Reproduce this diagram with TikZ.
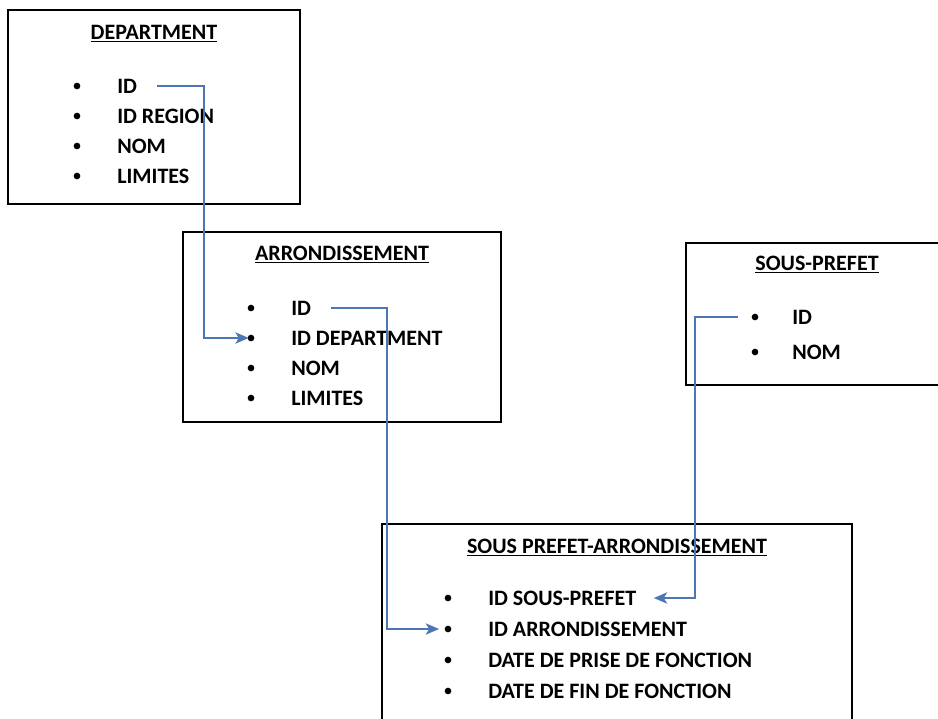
\documentclass[tikz,border=0pt]{standalone}
\usepackage{fontspec}
\setmainfont{Carlito}
\usetikzlibrary{arrows.meta}
\definecolor{linkblue}{RGB}{79,118,180}
\tikzset{
  box/.style={draw, line width=1.2pt, inner sep=0pt},
  title/.style={anchor=base, inner sep=0pt, font=\bfseries\fontsize{16.5}{20}\selectfont},
  field/.style={anchor=west, inner sep=0pt, font=\bfseries\fontsize{16.5}{20}\selectfont},
  dot/.style={circle, fill, inner sep=0pt, minimum size=5pt},
  link/.style={draw=linkblue, line width=1.3pt, -{Stealth[length=10pt,width=8.5pt,inset=2.5pt]}}
}

\begin{document}
\begin{tikzpicture}[x=0.75pt, y=-0.75pt]
\useasboundingbox (0,0) rectangle (938,718);
\clip (0,0) rectangle (938,718);
\node[box, minimum width=219pt, minimum height=145.5pt] (dept) at (154,107) {};
\node[box, minimum width=238.5pt, minimum height=142.5pt] (arr) at (342,327) {};
\node[box, minimum width=198pt, minimum height=106.5pt] (sp) at (818,314) {};
\node[box, minimum width=352.5pt, minimum height=162pt] (spa) at (617,632) {};

\node[title] (dept-t) at (154,39) {\underline{DEPARTMENT}};
\node[dot] (d-id-b) at (77,86) {};
\node[dot] (d-reg-b) at (77,116) {};
\node[dot] (d-nom-b) at (77,146) {};
\node[dot] (d-lim-b) at (77,176) {};
\node[field] (d-id) at (117,86) {ID};
\node[field] (d-reg) at (117,116) {ID REGION};
\node[field] (d-nom) at (117,146) {NOM};
\node[field] (d-lim) at (117,176) {LIMITES};

\node[title] (arr-t) at (342,260) {\underline{ARRONDISSEMENT}};
\node[dot] (a-id-b) at (251,308) {};
\node[dot] (a-dep-b) at (251,338) {};
\node[dot] (a-nom-b) at (251,368) {};
\node[dot] (a-lim-b) at (251,398) {};
\node[field] (a-id) at (291,308) {ID};
\node[field] (a-dep) at (291,338) {ID DEPARTMENT};
\node[field] (a-nom) at (291,368) {NOM};
\node[field] (a-lim) at (291,398) {LIMITES};

\node[title] (sp-t) at (817,270) {\underline{SOUS-PREFET}};
\node[dot] (s-id-b) at (755,317) {};
\node[dot] (s-nom-b) at (755,352) {};
\node[field] (s-id) at (792,317) {ID};
\node[field] (s-nom) at (792,352) {NOM};

\node[title] (spa-t) at (617,553) {\underline{SOUS PREFET-ARRONDISSEMENT}};
\node[dot] (p-sp-b) at (448,598) {};
\node[dot] (p-arr-b) at (448,629) {};
\node[dot] (p-deb-b) at (448,660) {};
\node[dot] (p-fin-b) at (448,691) {};
\node[field] (p-sp) at (488,598) {ID SOUS-PREFET};
\node[field] (p-arr) at (488,629) {ID ARRONDISSEMENT};
\node[field] (p-deb) at (488,660) {DATE DE PRISE DE FONCTION};
\node[field] (p-fin) at (488,691) {DATE DE FIN DE FONCTION};

\draw[link, shorten <=15pt, shorten >=-1pt] (d-id.east) -- (204,86) |- (a-dep-b);
\draw[link, shorten <=15pt, shorten >=4pt] (a-id.east) -- (387,308) |- (p-arr-b);
\draw[link, shorten <=10pt, shorten >=13pt] (s-id-b.west) -- (695,317) |- (p-sp.east);
\end{tikzpicture}
\end{document}
